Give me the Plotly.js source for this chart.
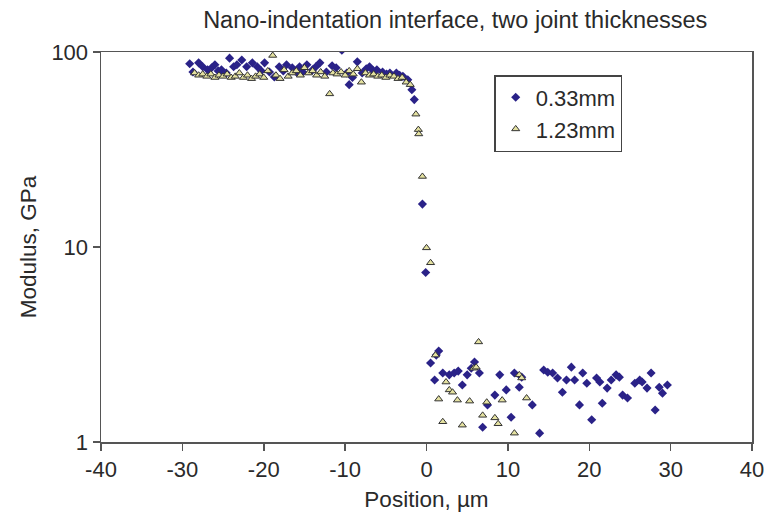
<!DOCTYPE html>
<html>
<head>
<meta charset="utf-8">
<script src="https://cdn.plot.ly/plotly-3.0.1.min.js"></script>
<style>html,body{margin:0;padding:0;background:#fff;}#chart{width:769px;height:518px;}</style>
</head>
<body>
<div id="chart"></div>
<script>
// Series 0.33mm joint thickness
var x033 = [-29.1,-28.7,-28.0,-27.5,-26.9,-26.4,-26.0,-25.6,-25.2,-24.6,-24.2,-23.7,-23.3,-22.7,-22.1,-21.4,-20.8,-20.3,-19.9,-19.3,-18.7,-18.1,-17.6,-17.2,-16.5,-16.0,-15.6,-15.2,-14.7,-14.0,-13.6,-13.1,-12.3,-11.6,-11.1,-10.4,-9.8,-9.5,-9.1,-8.5,-7.9,-7.4,-7.0,-6.5,-6.1,-5.4,-4.9,-4.5,-3.7,-3.3,-2.9,-2.3,-1.8,-1.5,-0.5,-0.1,
  0.5,1.0,1.2,1.5,2.0,2.8,3.4,3.9,4.4,5.0,5.5,5.9,6.5,6.9,7.5,8.4,9.0,9.8,10.4,10.8,11.4,11.7,13.0,13.9,14.4,14.9,15.5,16.1,16.7,17.2,17.8,18.2,18.8,19.2,19.7,20.3,20.9,21.3,21.6,22.2,22.7,23.3,23.7,24.1,24.7,25.6,26.2,26.5,27.1,27.6,28.1,28.6,29.0,29.6];
var y033 = [87,79,88,84,81,83,86,80,81,78,93,84,86,91,84,88,84,80,88,79,74.5,84,80,86,83,79,84,79,86,81,84,88,79,85,83,102,78,68,74,89,78,82,84,80,81,79,77,78,78,76,75,72,64,57,16.6,7.4,
  2.54,2.08,2.79,2.93,2.26,2.21,2.26,2.31,1.96,2.21,2.39,2.57,2.26,1.19,1.55,1.74,2.21,1.85,1.34,2.26,1.91,2.15,1.55,1.11,2.34,2.28,2.26,2.13,1.80,2.08,2.42,2.08,1.55,2.26,2.0,1.30,2.13,2.03,1.58,1.89,2.08,2.21,2.15,1.74,1.68,2.0,2.08,2.03,1.89,2.26,1.46,1.91,1.78,1.96];
// Series 1.23mm joint thickness
var x123 = [-28.5,-28.0,-27.5,-27.0,-26.5,-26.0,-25.5,-25.0,-24.5,-24.0,-23.5,-23.0,-22.5,-22.0,-21.5,-21.0,-20.5,-20.0,-19.5,-18.9,-18.5,-18.0,-17.5,-17.0,-16.5,-16.0,-15.5,-15.0,-14.5,-14.0,-13.5,-13.0,-12.5,-11.9,-11.5,-11.0,-10.5,-10.0,-9.5,-9.0,-8.5,-8.0,-7.5,-7.0,-6.5,-6.0,-5.5,-5.0,-4.5,-4.0,-3.5,-3.0,-2.5,-2.0,-1.3,-1.0,-0.95,-0.5,0.0,0.5,
  1.1,1.5,2.0,2.4,2.8,3.2,3.8,4.4,5.3,5.8,6.1,6.4,6.9,7.4,8.4,8.8,9.3,10.8,11.4,11.7,12.3];
var y123 = [78,76,77,75,77,74,76,75,77,74,75,78,74,76,73,75,77,74,80,96,76,73,81,75,78,80,76,83,78,80,76,79,75,61,78,77,79,76,80,77,82,70,78,76,77,75,76,74,76,75,73,74,70,68,48,40,38,23,9.9,8.3,
  2.79,1.66,1.27,2.03,1.85,1.80,1.64,1.22,1.62,2.39,2.42,3.26,1.37,1.60,1.33,1.24,1.64,1.11,2.21,2.13,1.68];
// Tick labels
var xTickVals = [-40,-30,-20,-10,0,10,20,30,40];
var xTickText = ['-40','-30','-20','-10','0','10','20','30','40'];
var yTickVals = [1,10,100];
var yTickText = ['1','10','100'];

var traces = [
  {x: x033, y: y033, name: '0.33mm', type: 'scatter', mode: 'markers',
   marker: {symbol: 'diamond', size: 7, color: '#2a2288', line: {width: 0}}},
  {x: x123, y: y123, name: '1.23mm', type: 'scatter', mode: 'markers',
   marker: {symbol: 'triangle-up', size: 7, color: '#e4e1a0', line: {width: 1, color: '#333333'}}}
];

var fam = 'Liberation Sans, Arial, sans-serif';
var txt = '#2a2a2a';
var layout = {
  width: 769, height: 518,
  margin: {l: 101, r: 17, t: 52, b: 76},
  paper_bgcolor: '#fff', plot_bgcolor: '#fff',
  font: {family: fam, color: txt, size: 22},
  title: {text: 'Nano-indentation interface, two joint thicknesses', x: 0.592, xanchor: 'center', y: 0.962, yanchor: 'middle', font: {family: fam, size: 23.5, color: txt}},
  xaxis: {range: [-40, 40], tickmode: 'array', tickvals: xTickVals, ticktext: xTickText,
    showgrid: false, zeroline: false,
    showline: true, linecolor: '#555', linewidth: 1.5, mirror: true,
    ticks: 'outside', ticklen: 7, tickcolor: '#555', tickwidth: 1.5,
    tickfont: {family: fam, size: 22, color: txt},
    title: {text: 'Position, µm', font: {family: fam, size: 22.5, color: txt}, standoff: 10}},
  yaxis: {type: 'log', range: [0, 2], tickmode: 'array', tickvals: yTickVals, ticktext: yTickText,
    showgrid: false, zeroline: false,
    showline: true, linecolor: '#555', linewidth: 1.5, mirror: true,
    ticks: 'outside', ticklen: 7, tickcolor: '#555', tickwidth: 1.5,
    tickfont: {family: fam, size: 22, color: txt},
    title: {text: 'Modulus, GPa', font: {family: fam, size: 22.5, color: txt}, standoff: 8}},
  showlegend: true,
  legend: {x: 0.604, y: 0.941, xanchor: 'left', yanchor: 'top',
    bgcolor: '#fff', bordercolor: '#444', borderwidth: 1.5,
    font: {family: fam, size: 22, color: txt}, itemwidth: 30}
};
Plotly.newPlot('chart', traces, layout, {displayModeBar: false, staticPlot: true});
</script>
</body>
</html>
